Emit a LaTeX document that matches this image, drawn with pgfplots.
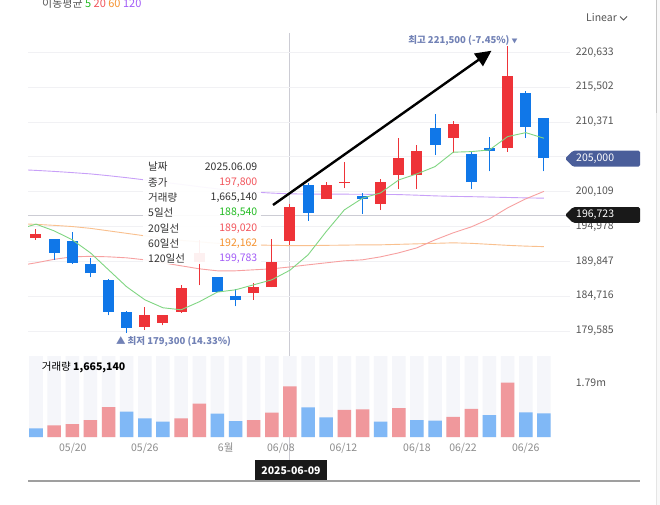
\documentclass[border=0pt]{standalone}
\usepackage{pgfplots}
\pgfplotsset{compat=1.18}
\usepackage{pgfplotstable}
\usepackage{fontspec}
\setmainfont{Noto Sans CJK KR}
\usetikzlibrary{arrows.meta}

\definecolor{upc}{HTML}{EE3338}
\definecolor{dnc}{HTML}{1077E8}
\definecolor{upv}{HTML}{F0989C}
\definecolor{dnv}{HTML}{80B8F6}
\definecolor{bgv}{HTML}{F5F6FA}
\definecolor{mafive}{HTML}{80D682}
\definecolor{matwenty}{HTML}{F7A0A0}
\definecolor{masixty}{HTML}{F9C08E}
\definecolor{maonetwenty}{HTML}{C8A0F8}
\definecolor{gridc}{HTML}{F1F1F4}
\definecolor{crossc}{HTML}{CCCCD4}
\definecolor{ticktxt}{HTML}{555555}
\definecolor{xtxt}{HTML}{8C8C8C}
\definecolor{tipt}{HTML}{333333}
\definecolor{tagblue}{HTML}{4A5E9A}
\definecolor{annot}{HTML}{7282B6}
\definecolor{vred}{HTML}{F2545B}
\definecolor{vgreen}{HTML}{22BB22}
\definecolor{vorange}{HTML}{F5922F}
\definecolor{vpurple}{HTML}{A25CF7}

\newcommand\tf{\fontsize{10.5}{12}\selectfont}

% up (red) candles: index open high low close
\pgfplotstableread{
x o h l c
0 193300 194600 193000 193900
6 180200 183100 179800 182000
7 180800 182000 180400 182000
8 182400 186300 182300 185900
9 189800 193000 186300 191100
12 185200 186600 184200 186100
13 186000 193100 186000 189700
14 192900 198300 192300 197800
16 199000 201500 199000 201100
17 201500 204500 200600 201600
19 198300 202000 197400 201600
20 202500 208000 200500 205100
21 202500 207000 200500 206100
23 208000 210500 205800 210100
26 206500 221500 206000 217100
}\uptab

% down (blue) candles
\pgfplotstableread{
x o h l c
1 193100 193200 190100 191100
2 192800 194100 189500 189600
3 189500 190300 187500 188100
4 187100 187200 181900 182400
5 182400 182500 179300 180100
10 187600 187600 185300 185300
11 184700 185700 183200 184100
15 201100 201400 195800 197000
18 199500 199900 196800 199000
22 209500 211600 205500 207000
24 205600 206000 200500 201500
25 206600 208100 203100 206100
27 214600 215000 208000 209600
28 211000 211000 203100 205000
}\dntab

% moving averages
\pgfplotstableread{
x m5 m20 m60 m120
-1 194530 189187 195397 203372
0 195323 189628 195294 203240
1 194337 190144 195147 203093
2 193013 190511 194970 202916
3 191100 190585 194705 202725
4 188598 190511 194337 202460
5 186097 190364 193969 202166
6 184184 190070 193602 201842
7 183007 189628 193234 201503
8 182712 189187 192939 201180
9 183889 188745 192719 200841
10 185317 188451 192498 200518
11 185655 188451 192351 200253
12 186391 188598 192277 200047
13 187127 188745 192203 199900
14 188540 189020 192162 199783
15 190806 189334 192162 199752
16 194234 189628 192203 199738
17 197427 189923 192233 199738
18 199149 190070 192277 199723
19 199929 190511 192277 199708
20 201842 191100 192351 199679
21 202725 191836 192424 199591
22 203799 193013 192498 199487
23 205918 194043 192572 199414
24 206006 194926 192498 199370
25 206256 196103 192351 199311
26 208214 197722 192203 199252
27 208802 199046 192086 199193
28 207978 200150 192012 199149
}\matab

% volume (thousands)
\pgfplotstableread{
x v
1 384
2 427
3 558
4 985
8 614
9 1094
12 558
13 798
14 1665
17 887
18 910
20 952
23 657
24 920
26 1785
}\upvol

\pgfplotstableread{
x v
0 286
5 831
6 614
7 502
10 765
11 525
15 975
16 647
19 502
21 558
22 535
25 722
27 811
28 778
}\dnvol

\pgfplotstableread{
x bg
0 2660
1 2660
2 2660
3 2660
4 2660
5 2660
6 2660
7 2660
8 2660
9 2660
10 2660
11 2660
12 2660
13 2660
14 2660
15 2660
16 2660
17 2660
18 2660
19 2660
20 2660
21 2660
22 2660
23 2660
24 2660
25 2660
26 2660
27 2660
28 2660
}\bgvol

\begin{document}
\begin{tikzpicture}[x=1pt,y=1pt]
\useasboundingbox (0,0) rectangle (660,-505);
\fill[white] (0,0) rectangle (660,-505);
% right edge strip
\fill[gray!5] (656,0) rectangle (660,-505);
\draw[gray!45, line width=0.8pt] (656,0) -- (656,-113);
\draw[gray!20, line width=0.8pt] (656,-113) -- (656,-505);

% crosshair
\draw[crossc, line width=0.8pt] (289.5,-33) -- (289.5,-460);
\draw[crossc, line width=0.8pt] (28,-215.7) -- (566,-215.7);

% price panel
\begin{axis}[at={(28pt,-33pt)}, anchor=north west, scale only axis,
  width=542pt, height=317pt,
  xmin=-0.441, xmax=29.44, ymin=176787, ymax=223476,
  scaled y ticks=false,
  axis line style={draw=none}, xtick=\empty,
  ytick={179585,184716,189847,194978,200109,205240,210371,215502,220633},
  yticklabels={{179,585},{184,716},{189,847},{194,978},{200,109},{},{210,371},{215,502},{220,633}},
  yticklabel pos=right, major tick length=0pt,
  yticklabel style={anchor=west, inner sep=0pt, xshift=5.7pt, font=\tf, text=ticktxt},
  ymajorgrids, major grid style={gridc, line width=0.8pt},
  clip=true]
% MA lines
\addplot[maonetwenty, line width=0.9pt, mark=none] table[x=x, y=m120] {\matab};
\addplot[masixty, line width=0.9pt, mark=none] table[x=x, y=m60] {\matab};
\addplot[matwenty, line width=0.9pt, mark=none] table[x=x, y=m20] {\matab};
% candles: wicks
\addplot[forget plot, draw=none, mark=none,
  error bars/.cd, y dir=plus, y explicit, error mark=none,
  error bar style={draw=upc, line width=1pt}]
  table[x=x, y=l, y error expr=\thisrow{h}-\thisrow{l}] {\uptab};
\addplot[forget plot, draw=none, mark=none,
  error bars/.cd, y dir=plus, y explicit, error mark=none,
  error bar style={draw=dnc, line width=1pt}]
  table[x=x, y=l, y error expr=\thisrow{h}-\thisrow{l}] {\dntab};
% candles: bodies
\addplot[forget plot, draw=none, mark=none,
  error bars/.cd, y dir=plus, y explicit, error mark=none,
  error bar style={draw=upc, line width=11pt}]
  table[x=x, y=o, y error expr=\thisrow{c}-\thisrow{o}] {\uptab};
\addplot[forget plot, draw=none, mark=none,
  error bars/.cd, y dir=plus, y explicit, error mark=none,
  error bar style={draw=dnc, line width=11pt}]
  table[x=x, y=c, y error expr=\thisrow{o}-\thisrow{c}] {\dntab};
\addplot[mafive, line width=0.9pt, mark=none] table[x=x, y=m5] {\matab};
\end{axis}

% volume panel
\begin{axis}[at={(28pt,-356pt)}, anchor=north west, scale only axis,
  width=542pt, height=81pt,
  xmin=-0.441, xmax=29.44, ymin=0, ymax=2660,
  scaled y ticks=false,
  axis line style={draw=none},
  ytick={1790}, yticklabels={1.79m},
  yticklabel pos=right, major tick length=0pt,
  yticklabel style={anchor=west, inner sep=0pt, xshift=5.7pt, font=\tf, text=ticktxt},
  xtick={2.03,6.0,10.46,13.5,16.95,21.0,23.54,27.0},
  xticklabels={05/20,05/26,6월,06/08,06/12,06/18,06/22,06/26},
  xticklabel style={anchor=base, yshift=-14pt, font=\tf, text=xtxt},
  clip=false]
\addplot[ybar, bar width=13.5pt, bar shift=0pt, fill=bgv, draw=none] table[x=x, y=bg] {\bgvol};
\addplot[ybar, bar width=13.5pt, bar shift=0pt, fill=upv, draw=none] table[x=x, y=v] {\upvol};
\addplot[ybar, bar width=13.5pt, bar shift=0pt, fill=dnv, draw=none] table[x=x, y=v] {\dnvol};
\end{axis}

% tooltip
\fill[white, opacity=0.93] (143,-159) rectangle (261,-264);
\begin{scope}[every node/.style={inner sep=0pt, font=\tf}]
\node[anchor=west, text=tipt] at (148,-166.7) {날짜};
\node[anchor=west, text=tipt] at (148,-182.7) {종가};
\node[anchor=west, text=tipt] at (148,-197.7) {거래량};
\node[anchor=west, text=tipt] at (148,-212.9) {5일선};
\node[anchor=west, text=tipt] at (148,-228.2) {20일선};
\node[anchor=west, text=tipt] at (148,-243.3) {60일선};
\node[anchor=west, text=tipt] at (148,-258.4) {120일선};
\node[anchor=east, text=tipt] at (257.5,-166.7) {2025.06.09};
\node[anchor=east, text=vred] at (257.5,-182.7) {197,800};
\node[anchor=east, text=tipt] at (257.5,-197.7) {1,665,140};
\node[anchor=east, text=vgreen] at (257.5,-212.9) {188,540};
\node[anchor=east, text=vred] at (257.5,-228.2) {189,020};
\node[anchor=east, text=vorange] at (257.5,-243.3) {192,162};
\node[anchor=east, text=vpurple] at (257.5,-258.4) {199,783};

% header
\node[anchor=west] at (42,-3) {\fontsize{11}{12}\selectfont\color{ticktxt}이동평균 \color{vgreen}5 \color{vred}20 \color{vorange}60 \color{vpurple}120};
\node[anchor=west, text=ticktxt] at (586,-18) {Linear};

% volume label
\node[anchor=west, text=black] at (41.7,-367) {거래량 \textbf{1,665,140}};

% price tags
\fill[tagblue, rounded corners=1.5pt] (565,-158.7) -- (573,-150.7) -- (640,-150.7) -- (640,-166.7) -- (573,-166.7) -- cycle;
\node[anchor=west, text=white] at (576,-158.7) {205,000};
\fill[black!90, rounded corners=1.5pt] (565,-215) -- (573,-207.2) -- (640,-207.2) -- (640,-222.8) -- (573,-222.8) -- cycle;
\node[anchor=west, text=white] at (576,-215) {196,723};

% extremes
\node[text=annot, font=\bfseries\fontsize{9.5}{11}\selectfont] at (173.5,-342) {▲ 최저 179,300 (14.33\%)};
\node[text=annot, font=\bfseries\fontsize{9.5}{11}\selectfont] at (463,-41) {최고 221,500 (-7.45\%) {\fontsize{6}{6}\selectfont ▼}};

% date tag
\node[fill=black!90, text=white, font=\bfseries\tf, minimum width=72pt, minimum height=21pt] at (291,-470.5) {2025-06-09};
\end{scope}
\draw[ticktxt, line width=0.8pt] (620,-16.5) -- (623.5,-20) -- (627,-16.5);

% bottom line
\draw[gray!75, line width=1.2pt] (28,-481) -- (640,-481);

% arrow
\draw[black, line width=2.4pt, -{Triangle[length=16pt, width=15pt]}] (273,-205) -- (491.5,-50.7);
\end{tikzpicture}
\end{document}
